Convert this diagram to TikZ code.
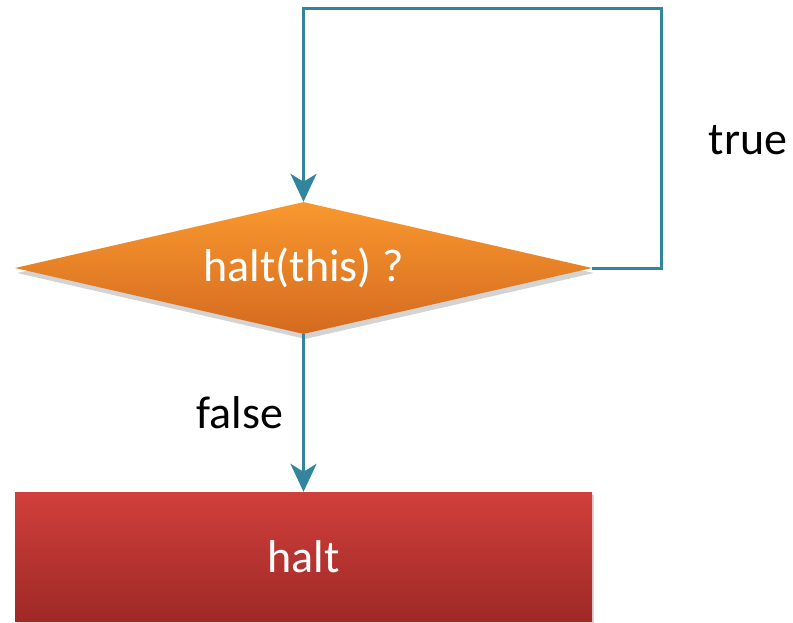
\documentclass[tikz,border=0pt]{standalone}
\usepackage{fontspec}
\setmainfont{Carlito}
\usetikzlibrary{shapes.geometric,shadows,arrows.meta}
\definecolor{loopteal}{HTML}{31859C}
\definecolor{decTop}{HTML}{F9982F}
\definecolor{decBot}{HTML}{D46A1F}
\definecolor{haltTop}{HTML}{D13F3B}
\definecolor{haltBot}{HTML}{9E2926}
\tikzset{
  decision/.style={diamond,aspect=4.37,inner sep=0pt,minimum width=577pt,minimum height=132pt,
    top color=decTop,bottom color=decBot,text=white,
    drop shadow={shadow xshift=2pt,shadow yshift=-5pt,opacity=0.35}},
  haltbox/.style={rectangle,inner sep=0pt,minimum width=577pt,minimum height=129pt,
    top color=haltTop,bottom color=haltBot,text=white,
    drop shadow={shadow xshift=2pt,shadow yshift=-3pt,opacity=0.3}},
  flow/.style={draw=loopteal,line width=3pt,-{Stealth[length=28pt,width=26pt,inset=8pt]}},
}
\begin{document}
\begin{tikzpicture}[x=1pt,y=-1pt,line join=miter,font=\fontsize{46}{55}\selectfont]
	\useasboundingbox (0,0) rectangle (793,623);
	\node[decision] (test) at (303.5,268) {halt(this) ?};
	\node[haltbox] (stop) at (303.5,556.5) {halt};
	\coordinate (loopR) at (661,268);
	\coordinate (loopT) at (303.5,9);
	\draw[flow] (test.east) -- (loopR) |- (loopT) -- (test.north);
	\draw[flow] (test.south) -- (stop.north);
	\node (yes) at (748,140) {true};
	\node (no) at (240,413) {false};
\end{tikzpicture}
\end{document}
